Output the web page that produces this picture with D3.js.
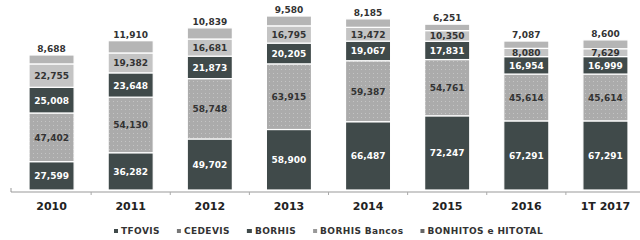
<!DOCTYPE html>
<html>
<head>
<meta charset="utf-8">
<script src="https://cdn.jsdelivr.net/npm/d3@7"></script>
<style>
  body { margin: 0; background: #fff; }
  text { font-family: "DejaVu Sans", Verdana, sans-serif; }
</style>
</head>
<body>
<div id="chart"></div>
<script>
// categories and series
const years = ["2010", "2011", "2012", "2013", "2014", "2015", "2016", "1T 2017"]
const seriesNames = ["TFOVIS", "CEDEVIS", "BORHIS", "BORHIS Bancos", "BONHITOS e HITOTAL"]
const tfovis = [27599, 36282, 49702, 58900, 66487, 72247, 67291, 67291]
const cedevis = [47402, 54130, 58748, 63915, 59387, 54761, 45614, 45614]
const borhis = [25008, 23648, 21873, 20205, 19067, 17831, 16954, 16999]
const borhisBancos = [22755, 19382, 16681, 16795, 13472, 10350, 8080, 7629]
const bonhitos = [8688, 11910, 10839, 9580, 8185, 6251, 7087, 8600]

const W = 640, H = 240
const baseY = 190

const svg = d3.select("#chart").append("svg")
  .attr("width", W)
  .attr("height", H)

// dotted fill for CEDEVIS
const defs = svg.append("defs")
const pat = defs.append("pattern")
  .attr("id", "dots")
  .attr("width", 4).attr("height", 4)
  .attr("patternUnits", "userSpaceOnUse")
pat.append("rect").attr("width", 4).attr("height", 4).attr("fill", "#ababab")
pat.append("rect").attr("x", 1).attr("y", 1).attr("width", 1).attr("height", 1).attr("fill", "#c4c4c4")

const colors = ["#404a4a", "url(#dots)", "#404a4a", "#c4c4c4", "#b5b5b5"]
const swatch = ["#404a4a", "#777", "#404a4a", "#999", "#666"]
const labelColors = ["#fff", "#333", "#fff", "#333", "#333"]

const rows = years.map((yr, i) => ({
  year: yr,
  "TFOVIS": tfovis[i],
  "CEDEVIS": cedevis[i],
  "BORHIS": borhis[i],
  "BORHIS Bancos": borhisBancos[i],
  "BONHITOS e HITOTAL": bonhitos[i]
}))

const stack = d3.stack().keys(seriesNames)(rows)

const x = d3.scaleBand()
  .domain(years)
  .range([12, 645])
  .paddingInner(0.43)
  .paddingOuter(0.215)

const y = d3.scaleLinear()
  .domain([0, 185000])
  .range([baseY, 0])

// bars
const layers = svg.selectAll("g.layer")
  .data(stack)
  .enter().append("g")
  .attr("class", "layer")
  .attr("fill", (d, i) => colors[i])

layers.selectAll("rect")
  .data(d => d)
  .enter().append("rect")
  .attr("x", d => x(d.data.year))
  .attr("y", d => y(d[1]))
  .attr("width", x.bandwidth())
  .attr("height", d => y(d[0]) - y(d[1]))
  .attr("stroke", "#fff")
  .attr("stroke-width", 1.2)

// value labels
stack.forEach((layer, li) => {
  const top = li === stack.length - 1
  svg.append("g").selectAll("text")
    .data(layer)
    .enter().append("text")
    .attr("x", d => x(d.data.year) + x.bandwidth() / 2)
    .attr("y", d => top ? y(d[1]) - 3 : (y(d[0]) + y(d[1])) / 2 + 3.5)
    .attr("text-anchor", "middle")
    .attr("font-size", "9px")
    .attr("font-weight", "bold")
    .attr("fill", top ? "#333" : labelColors[li])
    .text(d => d3.format(",")(d[1] - d[0]))
})

// x axis
const xAxis = d3.axisBottom(x).tickSize(0).tickPadding(10)
const ax = svg.append("g")
  .attr("transform", `translate(0, ${baseY + 2})`)
  .call(xAxis)
ax.select(".domain").attr("stroke", "#999").attr("d", "M11,-4V0H640")
ax.selectAll("text")
  .attr("font-size", "11px")
  .attr("font-weight", "bold")
  .attr("fill", "#222")
  .style("font-family", "'DejaVu Sans', sans-serif")
// small ticks between bars
ax.selectAll("line.sep")
  .data(years.slice(1))
  .enter().append("line")
  .attr("class", "sep")
  .attr("x1", d => x(d) - x.step() * 0.215)
  .attr("x2", d => x(d) - x.step() * 0.215)
  .attr("y1", 0).attr("y2", 3)
  .attr("stroke", "#aaa")

// legend
const legend = svg.append("g").attr("transform", "translate(114, 234)")
let lx = 0
seriesNames.forEach((name, i) => {
  const g = legend.append("g").attr("transform", `translate(${lx}, 0)`)
  g.append("rect")
    .attr("x", 0).attr("y", -5)
    .attr("width", i === 2 ? 5 : 4).attr("height", 4)
    .attr("fill", swatch[i])
  const t = g.append("text")
    .attr("x", i === 2 ? 8 : 7)
    .attr("y", 0)
    .attr("font-size", "9px")
    .attr("font-weight", "bold")
    .attr("letter-spacing", "0.4px")
    .attr("fill", "#333")
    .text(name)
  lx += (i === 2 ? 8 : 7) + t.node().getComputedTextLength() + 17
})
</script>
</body>
</html>
